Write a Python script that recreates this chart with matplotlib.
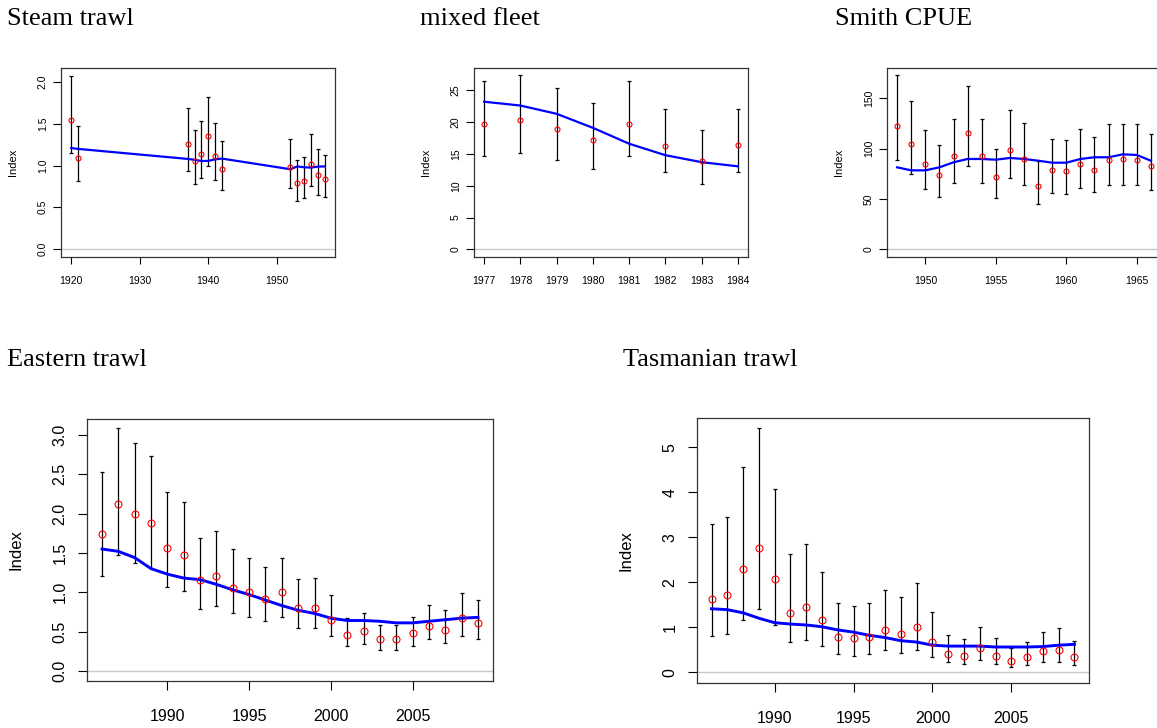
import matplotlib.pyplot as plt

# index values
steam_years = [1920, 1921, 1937, 1938, 1939, 1940, 1941, 1942, 1952, 1953, 1954, 1955, 1956, 1957]
steam_obs = [1.55, 1.09, 1.26, 1.06, 1.14, 1.36, 1.12, 0.96, 0.98, 0.79, 0.82, 1.02, 0.89, 0.84]
steam_lo = [1.15, 0.81, 0.93, 0.78, 0.85, 1.00, 0.83, 0.71, 0.73, 0.58, 0.61, 0.76, 0.65, 0.62]
steam_hi = [2.08, 1.47, 1.69, 1.43, 1.54, 1.82, 1.51, 1.30, 1.32, 1.07, 1.10, 1.38, 1.20, 1.13]
steam_fit = [1.21, 1.20, 1.08, 1.07, 1.055, 1.056, 1.075, 1.084, 0.956, 0.99, 0.98, 0.976, 0.988, 0.99]

mixed_years = [1977, 1978, 1979, 1980, 1981, 1982, 1983, 1984]
mixed_obs = [19.7, 20.4, 18.9, 17.2, 19.7, 16.3, 13.9, 16.4]
mixed_lo = [14.6, 15.2, 14.1, 12.7, 14.6, 12.1, 10.3, 12.1]
mixed_hi = [26.5, 27.4, 25.4, 23.0, 26.4, 22.0, 18.7, 22.0]
mixed_fit = [23.2, 22.6, 21.3, 19.1, 16.6, 14.8, 13.7, 13.05]

smith_years = list(range(1948, 1967))
smith_obs = [123.0, 105.1, 84.5, 73.8, 92.8, 115.7, 92.5, 71.5, 98.8, 89.8,
             63.2, 79.1, 77.5, 84.8, 79.1, 89.1, 89.8, 89.1, 82.5]
smith_lo = [88.5, 75.2, 60.2, 52.2, 66.2, 82.5, 66.2, 50.9, 70.5, 63.5,
            44.9, 56.2, 54.9, 60.5, 56.9, 63.5, 63.5, 63.5, 58.5]
smith_hi = [173.3, 147.0, 118.7, 103.4, 129.4, 162.3, 129.4, 99.8, 138.7, 125.4,
            87.8, 110.1, 108.7, 119.1, 111.4, 124.4, 125.0, 125.0, 115.1]
smith_fit = [81.5, 78.5, 78.5, 81.5, 86.5, 89.8, 89.8, 89.1, 90.8, 89.8,
             88.1, 86.1, 86.1, 89.8, 91.5, 91.5, 94.4, 93.8, 88.1]

east_years = list(range(1986, 2010))
east_obs = [1.74, 2.12, 2.00, 1.88, 1.56, 1.48, 1.15, 1.21, 1.06, 1.00, 0.91, 1.00,
            0.80, 0.80, 0.65, 0.46, 0.51, 0.40, 0.40, 0.48, 0.57, 0.52, 0.67, 0.61]
east_lo = [1.21, 1.47, 1.37, 1.31, 1.07, 1.01, 0.79, 0.83, 0.73, 0.68, 0.63, 0.68,
           0.54, 0.55, 0.44, 0.31, 0.34, 0.27, 0.27, 0.32, 0.40, 0.35, 0.44, 0.41]
east_hi = [2.53, 3.09, 2.90, 2.73, 2.27, 2.15, 1.69, 1.78, 1.55, 1.44, 1.32, 1.44,
           1.17, 1.18, 0.96, 0.67, 0.74, 0.58, 0.58, 0.69, 0.84, 0.78, 0.99, 0.90]
east_fit = [1.55, 1.52, 1.44, 1.30, 1.23, 1.18, 1.16, 1.10, 1.03, 0.97, 0.90, 0.83,
            0.77, 0.73, 0.67, 0.64, 0.64, 0.63, 0.61, 0.61, 0.63, 0.65, 0.67, 0.68]

tas_years = list(range(1986, 2010))
tas_obs = [1.63, 1.72, 2.30, 2.75, 2.08, 1.32, 1.44, 1.15, 0.79, 0.76, 0.79, 0.93,
           0.86, 1.01, 0.67, 0.41, 0.35, 0.53, 0.37, 0.26, 0.33, 0.47, 0.50, 0.33]
tas_lo = [0.81, 0.86, 1.15, 1.41, 1.06, 0.67, 0.71, 0.59, 0.40, 0.37, 0.40, 0.49,
          0.43, 0.50, 0.34, 0.22, 0.18, 0.27, 0.19, 0.12, 0.17, 0.23, 0.23, 0.17]
tas_hi = [3.30, 3.45, 4.55, 5.43, 4.08, 2.62, 2.85, 2.23, 1.54, 1.47, 1.54, 1.82,
          1.68, 1.98, 1.33, 0.82, 0.73, 1.01, 0.75, 0.54, 0.67, 0.90, 0.99, 0.70]
tas_fit = [1.41, 1.39, 1.32, 1.20, 1.10, 1.07, 1.05, 1.01, 0.94, 0.89, 0.82, 0.77,
           0.70, 0.67, 0.60, 0.58, 0.58, 0.58, 0.56, 0.56, 0.56, 0.57, 0.60, 0.62]

W, H = 1157, 728
fig = plt.figure(figsize=(W / 100, H / 100), dpi=100)
sans = ["Liberation Sans", "DejaVu Sans"]
serif = ["Liberation Serif", "DejaVu Serif"]


def panel(box, title, title_xy, years, obs, lo, hi, fit, xlim, ylim, xticks, yticks,
          yfmt, small):
    left, top, right, bottom = box
    ax = fig.add_axes([left / W, 1 - bottom / H, (right - left) / W, (bottom - top) / H])
    fs = 7.5 if small else 11.5
    ax.axhline(0, color="#c8c8c8", lw=1.0, zorder=1)
    yerr = [[o - l for o, l in zip(obs, lo)], [h - o for h, o in zip(hi, obs)]]
    ax.errorbar(years, obs, yerr=yerr, fmt="none", ecolor="black",
                elinewidth=0.9, capsize=1.2, capthick=0.9, zorder=2)
    ax.plot(years, fit, color="#0000ff", lw=1.6 if small else 2.1, zorder=3)
    ax.plot(years, obs, "o", mfc="none", mec="red", mew=0.8,
            ms=3.6 if small else 5.0, zorder=4)
    ax.set_xlim(*xlim)
    ax.set_ylim(*ylim)
    ax.set_xticks(xticks)
    ax.set_yticks(yticks)
    ax.set_yticklabels([yfmt.format(v) for v in yticks], rotation=90, va="center",
                       family=sans, fontsize=fs)
    ax.set_xticklabels([str(v) for v in xticks], family=sans, fontsize=fs)
    ax.tick_params(axis="x", length=5 if small else 6.7, width=0.8,
                   pad=8.5 if small else 13.5)
    ax.tick_params(axis="y", length=5.5 if small else 6.7, width=0.8,
                   pad=4 if small else 7.5)
    for s in ax.spines.values():
        s.set_linewidth(0.9)
        s.set_color("#333333")
    ax.set_ylabel("Index", family=sans, fontsize=fs + 0.5)
    off = 43 if small else 64
    ax.yaxis.set_label_coords(-off / (right - left), 0.5)
    fig.text(title_xy[0] / W, 1 - title_xy[1] / H, title, family=serif,
             fontsize=19, ha="left", va="baseline")
    return ax


panel((61, 68, 335, 257), "Steam trawl", (7, 25), steam_years, steam_obs, steam_lo,
      steam_hi, steam_fit, (1918.5, 1958.5), (-0.096, 2.17),
      [1920, 1930, 1940, 1950], [0.0, 0.5, 1.0, 1.5, 2.0], "{:.1f}", True)
panel((474, 68, 748, 257), "mixed fleet", (420, 25), mixed_years, mixed_obs, mixed_lo,
      mixed_hi, mixed_fit, (1976.72, 1984.28), (-1.2, 28.5),
      mixed_years, [0, 5, 10, 15, 20, 25], "{:d}", True)
panel((887, 68, 1161, 257), "Smith CPUE", (835, 25), smith_years, smith_obs, smith_lo,
      smith_hi, smith_fit, (1947.28, 1966.72), (-7.6, 180.2),
      [1950, 1955, 1960, 1965], [0, 50, 100, 150], "{:d}", True)
panel((87, 419, 493, 681), "Eastern trawl", (7, 366), east_years, east_obs, east_lo,
      east_hi, east_fit, (1985.08, 2009.92), (-0.13, 3.205),
      [1990, 1995, 2000, 2005], [0.0, 0.5, 1.0, 1.5, 2.0, 2.5, 3.0], "{:.1f}", False)
panel((697, 418, 1089, 683), "Tasmanian trawl", (623, 366), tas_years, tas_obs, tas_lo,
      tas_hi, tas_fit, (1985.08, 2009.92), (-0.24, 5.65),
      [1990, 1995, 2000, 2005], [0, 1, 2, 3, 4, 5], "{:d}", False)

fig.savefig("out.png", dpi=100)
